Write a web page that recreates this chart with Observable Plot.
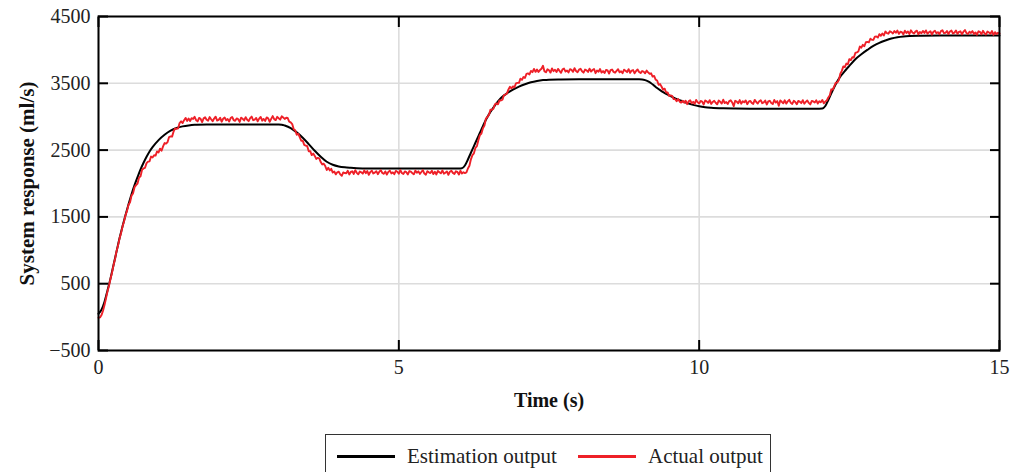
<!DOCTYPE html>
<html>
<head>
<meta charset="utf-8">
<script src="https://cdn.jsdelivr.net/npm/d3@7"></script>
<script src="https://cdn.jsdelivr.net/npm/@observablehq/plot@0.6"></script>
<style>
  html, body { margin: 0; padding: 0; background: #fff; }
  body { width: 1024px; height: 472px; overflow: hidden; font-family: "Liberation Serif", serif; }
  #chart svg { display: block; }
  .legend { position: absolute; left: 325px; top: 434px; width: 446px; height: 50px; border: 1px solid #333; box-sizing: border-box; font-family: "Liberation Serif", serif; font-size: 21px; color: #222; }
  .legend .item { position: absolute; top: 8px; display: flex; align-items: center; height: 26px; }
  .legend .sw { display: inline-block; width: 58px; height: 3px; margin-right: 12px; }
</style>
</head>
<body>
<div id="chart"></div>
<div class="legend">
  <div class="item" style="left: 11px;"><span class="sw" style="background:#000"></span><span>Estimation output</span></div>
  <div class="item" style="left: 252px;"><span class="sw" style="background:#ee2028"></span><span>Actual output</span></div>
</div>
<script>
// ---- data ----
const xTicks = [0, 5, 10, 15];
const yTicks = [-500, 500, 1500, 2500, 3500, 4500];
const seriesNames = ["Estimation output", "Actual output"];

// Estimation output (black): time (s) and value (ml/s)
const estT = [0,0.05,0.1,0.15,0.2,0.25,0.3,0.35,0.4,0.45,0.5,0.55,0.6,0.65,0.7,0.75,0.8,0.85,0.9,1.0,1.1,1.2,1.3,1.4,1.5,1.6,1.8,2.0,3.0,3.05,3.1,3.2,3.3,3.4,3.5,3.6,3.7,3.8,3.9,4.0,4.1,4.2,4.3,4.5,5.0,6.0,6.05,6.1,6.15,6.2,6.25,6.3,6.35,6.4,6.45,6.5,6.55,6.6,6.65,6.7,6.8,6.9,7.0,7.1,7.2,7.3,7.4,7.5,7.7,8.0,9.0,9.05,9.1,9.15,9.2,9.25,9.3,9.35,9.4,9.5,9.6,9.7,9.8,9.9,10.0,10.1,10.2,10.4,10.6,11.0,12.0,12.05,12.1,12.15,12.2,12.25,12.3,12.35,12.4,12.45,12.5,12.6,12.7,12.8,12.9,13.0,13.1,13.2,13.3,13.4,13.5,13.7,14.0,15.0];
const estV = [50,110,230,400,580,780,980,1180,1360,1530,1690,1840,1975,2095,2210,2310,2400,2480,2545,2650,2730,2790,2830,2855,2870,2878,2882,2883,2883,2880,2868,2830,2765,2685,2590,2490,2400,2325,2280,2255,2242,2235,2230,2226,2225,2225,2228,2270,2360,2460,2560,2660,2760,2860,2955,3035,3105,3170,3230,3280,3350,3405,3450,3485,3515,3535,3548,3555,3558,3560,3560,3558,3548,3528,3500,3465,3430,3398,3368,3318,3275,3238,3205,3177,3155,3141,3133,3125,3122,3120,3120,3122,3160,3250,3350,3445,3530,3600,3655,3710,3760,3860,3935,4000,4060,4105,4140,4170,4190,4202,4208,4212,4215,4215];

// Actual output (red): sampled every 0.025 s from t = 0
const actStart = 0;
const actStep = 0.025;
const actV = [
  -10,-5,30,95,180,280,385,470,575,665,
  775,870,985,1070,1175,1255,1355,1430,1525,1590,
  1682,1720,1820,1852,1945,1975,2000,2088,2108,2205,
  2225,2235,2305,2328,2332,2403,2390,2423,2418,2480,
  2465,2522,2490,2555,2605,2597,2620,2695,2705,2702,
  2778,2825,2818,2825,2905,2930,2905,2948,2982,2937,
  2972,2935,2978,2965,2998,2948,2930,2982,2968,2920,
  2975,2990,2955,2940,2995,2962,2932,2972,3000,2942,
  2952,2985,2925,2970,2988,2945,2965,2928,2980,2996,
  2950,2938,2974,2963,2922,2986,2969,2944,2993,2954,
  2933,2979,3002,2947,2957,2981,2930,2971,2997,2940,
  2966,2936,2989,2976,2924,2968,3009,2964,2949,2998,
  2976,2956,3006,2987,2967,2985,2980,2925,2915,2890,
  2812,2797,2730,2745,2695,2640,2642,2578,2568,2558,
  2482,2485,2425,2448,2413,2368,2384,2376,2321,2285,
  2297,2261,2202,2236,2196,2220,2164,2179,2137,2168,
  2177,2136,2115,2166,2157,2153,2190,2135,2173,2183,
  2143,2200,2160,2137,2179,2168,2147,2195,2155,2187,
  2130,2171,2192,2150,2163,2185,2140,2177,2198,2157,
  2145,2181,2133,2174,2193,2151,2166,2139,2189,2176,
  2146,2201,2158,2142,2180,2169,2135,2186,2178,2154,
  2138,2194,2162,2182,2144,2172,2199,2149,2132,2184,
  2167,2156,2191,2141,2175,2136,2188,2170,2152,2196,
  2147,2161,2181,2129,2177,2192,2159,2143,2183,2173,
  2134,2190,2150,2168,2155,2165,2225,2265,2362,2425,
  2452,2535,2560,2650,2725,2748,2826,2867,2972,2998,
  3026,3103,3104,3118,3186,3199,3185,3243,3242,3254,
  3324,3330,3350,3408,3447,3424,3454,3441,3499,3507,
  3507,3570,3551,3594,3581,3641,3648,3633,3686,3667,
  3715,3671,3705,3670,3698,3718,3762,3678,3665,3710,
  3695,3660,3723,3682,3702,3668,3715,3686,3657,3708,
  3720,3675,3692,3663,3712,3700,3672,3726,3684,3666,
  3704,3717,3680,3659,3706,3694,3670,3719,3676,3699,
  3714,3652,3691,3673,3714,3661,3683,3654,3701,3693,
  3645,3697,3706,3671,3659,3686,3711,3664,3681,3651,
  3703,3688,3667,3711,3656,3691,3698,3649,3684,3707,
  3668,3653,3683,3675,3650,3690,3663,3642,3650,3600,
  3610,3555,3542,3478,3488,3449,3404,3420,3362,3364,
  3310,3319,3312,3263,3263,3232,3266,3226,3211,3237,
  3210,3240,3188,3230,3246,3203,3222,3193,3251,3216,
  3199,3235,3226,3182,3243,3229,3206,3248,3191,3221,
  3237,3209,3185,3242,3224,3197,3254,3204,3219,3190,
  3233,3245,3213,3158,3238,3227,3201,3249,3194,3231,
  3215,3244,3187,3225,3236,3207,3192,3252,3220,3198,
  3232,3247,3202,3214,3241,3183,3228,3239,3205,3189,
  3250,3211,3234,3163,3243,3223,3200,3246,3196,3230,
  3253,3208,3191,3238,3219,3186,3235,3226,3203,3248,
  3194,3222,3244,3206,3184,3237,3229,3212,3245,3197,
  3232,3216,3251,3201,3227,3242,3287,3320,3410,3405,
  3458,3510,3510,3548,3643,3686,3753,3743,3795,3785,
  3862,3847,3890,3887,3954,3964,3976,4050,4034,4076,
  4055,4115,4119,4113,4167,4152,4150,4198,4201,4184,
  4235,4211,4244,4216,4275,4252,4242,4280,4266,4247,
  4282,4257,4290,4240,4272,4265,4232,4287,4252,4277,
  4237,4294,4260,4244,4274,4288,4234,4268,4250,4284,
  4254,4292,4242,4263,4279,4230,4271,4286,4248,4266,
  4236,4281,4295,4251,4256,4283,4238,4275,4289,4245,
  4259,4291,4241,4270,4278,4233,4273,4297,4253,4239,
  4273,4254,4281,4239,4262,4228,4278,4269,4236,4286,
  4248,4231,4275,4260,4242,4283,4225,4265,4237,4257,
  4243
];

// ---- tables ----
const est = estT.map((t, i) => ({t, v: estV[i], s: seriesNames[0]}));
const act = actV.map((v, i) => ({t: +(actStart + i * actStep).toFixed(4), v, s: seriesNames[1]}));

const font = "Liberation Serif, serif";
const fmt = d => (d < 0 ? "\u2212" + Math.abs(d) : String(d));

const chart = Plot.plot({
  width: 1024,
  height: 420,
  marginLeft: 98,
  marginRight: 25,
  marginTop: 16,
  marginBottom: 70,
  style: {fontFamily: font, fontSize: "20px", color: "#222", background: "#fff"},
  x: {domain: [0, 15], ticks: xTicks},
  y: {domain: [-500, 4500], ticks: yTicks},
  marks: [
    Plot.gridX(xTicks, {stroke: "#dcdcdc", strokeOpacity: 1, strokeWidth: 1.6}),
    Plot.gridY(yTicks, {stroke: "#dcdcdc", strokeOpacity: 1, strokeWidth: 1.6}),
    Plot.line(est, {x: "t", y: "v", stroke: "#000", strokeWidth: 2, curve: "monotone-x"}),
    Plot.line(act, {x: "t", y: "v", stroke: "#ee2028", strokeWidth: 1.9}),
    Plot.frame({stroke: "#000", strokeWidth: 2}),
    // inward ticks on all four sides
    Plot.axisX(xTicks, {anchor: "bottom", tickSize: -10, fill: "none", stroke: "#000", strokeWidth: 2, label: null}),
    Plot.axisX(xTicks, {anchor: "top", tickSize: -10, fill: "none", stroke: "#000", strokeWidth: 2, label: null}),
    Plot.axisY(yTicks, {anchor: "left", tickSize: -10, fill: "none", stroke: "#000", strokeWidth: 2, label: null}),
    Plot.axisY(yTicks, {anchor: "right", tickSize: -10, fill: "none", stroke: "#000", strokeWidth: 2, label: null}),
    // tick labels
    Plot.axisX(xTicks, {anchor: "bottom", tickSize: 0, tickPadding: 9, fill: "#222", label: null, fontSize: 20, tickFormat: fmt}),
    Plot.axisY(yTicks, {anchor: "left", tickSize: 0, tickPadding: 8, fill: "#222", label: null, fontSize: 20, tickFormat: fmt}),
    // axis titles
    Plot.text(["Time (s)"], {frameAnchor: "bottom", dy: 56, text: d => d, fontWeight: "bold", fontSize: 20, fill: "#111"}),
    Plot.text(["System response (ml/s)"], {frameAnchor: "left", dx: -71, rotate: -90, textAnchor: "middle", text: d => d, fontWeight: "bold", fontSize: 21, fill: "#111"})
  ]
});
document.getElementById("chart").appendChild(chart);
</script>
</body>
</html>
